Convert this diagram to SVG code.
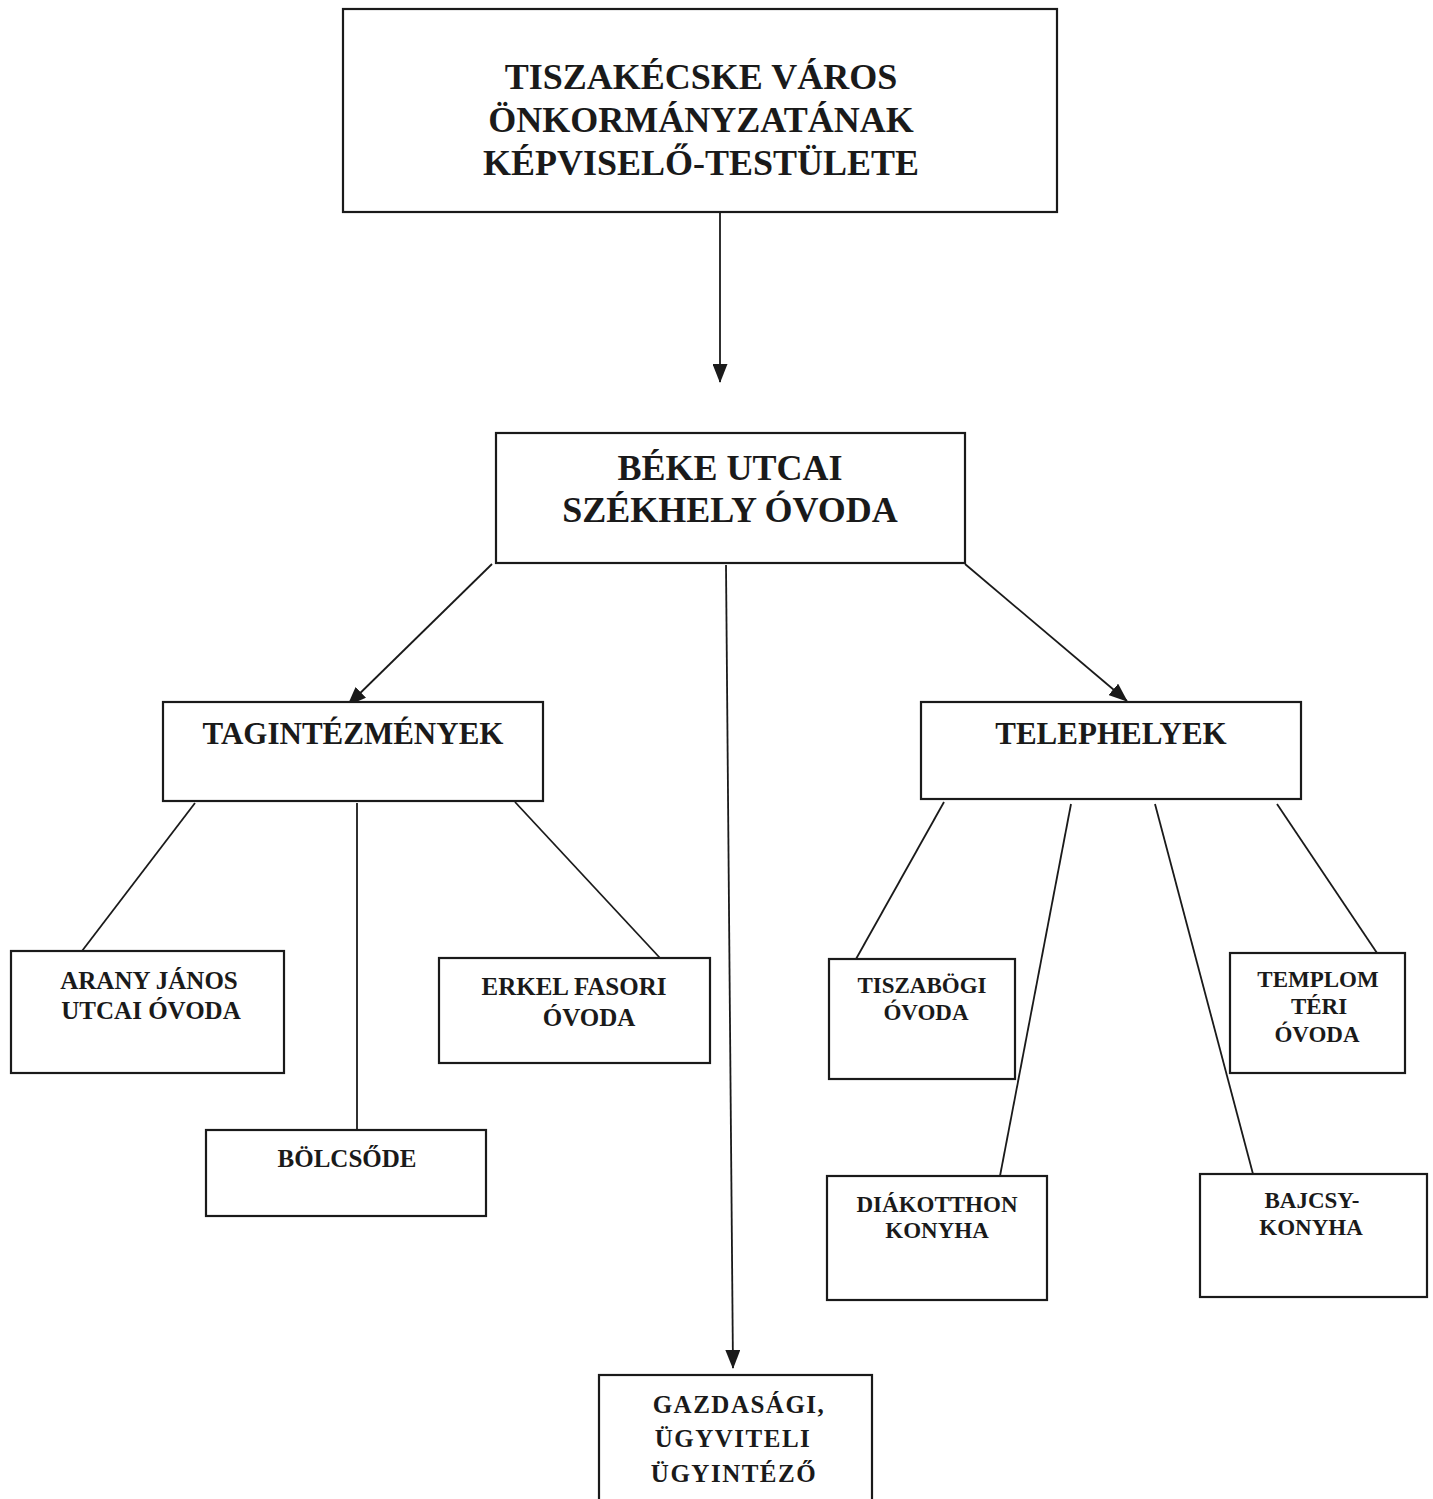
<svg xmlns="http://www.w3.org/2000/svg" width="1433" height="1499" viewBox="0 0 1433 1499">
<style>
.box{fill:#fff;stroke:#1a1a1a;stroke-width:2.2}
.ln{stroke:#1a1a1a;stroke-width:1.8;fill:none}
text{font-family:"Liberation Serif","Times New Roman",serif;font-weight:bold;fill:#1a1a1a;text-anchor:middle}
.t1{font-size:36px}
.t2{font-size:31px}
.t3{font-size:25px}
.t4{font-size:23px}
.t5{font-size:25px;letter-spacing:1.5px}
</style>
<defs>
<marker id="ah" markerWidth="19" markerHeight="15" refX="18" refY="7.5" orient="auto" markerUnits="userSpaceOnUse">
<path d="M0,0 L19,7.5 L0,15 Z" fill="#1a1a1a"/>
</marker>
</defs>
<rect width="1433" height="1499" fill="#fff"/>
<g id="connectors">
<line class="ln" x1="720" y1="212" x2="720" y2="382" marker-end="url(#ah)"/>
<line class="ln" x1="492" y1="564" x2="348" y2="705" marker-end="url(#ah)"/>
<line class="ln" x1="965" y1="564" x2="1127" y2="701" marker-end="url(#ah)"/>
<line class="ln" x1="726" y1="565" x2="733" y2="1368" marker-end="url(#ah)"/>
<line class="ln" x1="195" y1="803" x2="82" y2="951"/>
<line class="ln" x1="357" y1="803" x2="357" y2="1130"/>
<line class="ln" x1="515" y1="802" x2="660" y2="958"/>
<line class="ln" x1="944" y1="802" x2="856" y2="959"/>
<line class="ln" x1="1071" y1="804" x2="1000" y2="1176"/>
<line class="ln" x1="1155" y1="804" x2="1253" y2="1174"/>
<line class="ln" x1="1277" y1="804" x2="1377" y2="953"/>
</g>
<g id="n-testulet">
<rect class="box" x="343" y="9" width="714" height="203"/>
<text class="t1" x="701" y="89">TISZAKÉCSKE VÁROS</text>
<text class="t1" x="701" y="132">ÖNKORMÁNYZATÁNAK</text>
<text class="t1" x="701" y="175">KÉPVISELŐ-TESTÜLETE</text>
</g>
<g id="n-beke">
<rect class="box" x="496" y="433" width="469" height="130"/>
<text class="t1" x="730" y="480">BÉKE UTCAI</text>
<text class="t1" x="730" y="522">SZÉKHELY ÓVODA</text>
</g>
<g id="n-tagintezmenyek">
<rect class="box" x="163" y="702" width="380" height="99"/>
<text class="t2" x="353" y="744">TAGINTÉZMÉNYEK</text>
</g>
<g id="n-telephelyek">
<rect class="box" x="921" y="702" width="380" height="97"/>
<text class="t2" x="1111" y="744">TELEPHELYEK</text>
</g>
<g id="n-arany">
<rect class="box" x="11" y="951" width="273" height="122"/>
<text class="t3" x="149" y="989">ARANY JÁNOS</text>
<text class="t3" x="151" y="1019">UTCAI ÓVODA</text>
</g>
<g id="n-bolcsode">
<rect class="box" x="206" y="1130" width="280" height="86"/>
<text class="t3" x="347" y="1167">BÖLCSŐDE</text>
</g>
<g id="n-erkel">
<rect class="box" x="439" y="958" width="271" height="105"/>
<text class="t3" x="574" y="995">ERKEL FASORI</text>
<text class="t3" x="589" y="1026">ÓVODA</text>
</g>
<g id="n-tiszabogi">
<rect class="box" x="829" y="959" width="186" height="120"/>
<text class="t4" x="922" y="993">TISZABÖGI</text>
<text class="t4" x="926" y="1020">ÓVODA</text>
</g>
<g id="n-templom">
<rect class="box" x="1230" y="953" width="175" height="120"/>
<text class="t4" x="1318" y="987">TEMPLOM</text>
<text class="t4" x="1319" y="1014">TÉRI</text>
<text class="t4" x="1317" y="1042">ÓVODA</text>
</g>
<g id="n-diakotthon">
<rect class="box" x="827" y="1176" width="220" height="124"/>
<text class="t4" x="937" y="1212">DIÁKOTTHON</text>
<text class="t4" x="937" y="1238">KONYHA</text>
</g>
<g id="n-bajcsy">
<rect class="box" x="1200" y="1174" width="227" height="123"/>
<text class="t4" x="1312" y="1208">BAJCSY-</text>
<text class="t4" x="1311" y="1235">KONYHA</text>
</g>
<g id="n-gazdasagi">
<rect class="box" x="599" y="1375" width="273" height="140"/>
<text class="t5" x="739" y="1413">GAZDASÁGI,</text>
<text class="t5" x="733" y="1447">ÜGYVITELI</text>
<text class="t5" x="734" y="1482">ÜGYINTÉZŐ</text>
</g>
</svg>
